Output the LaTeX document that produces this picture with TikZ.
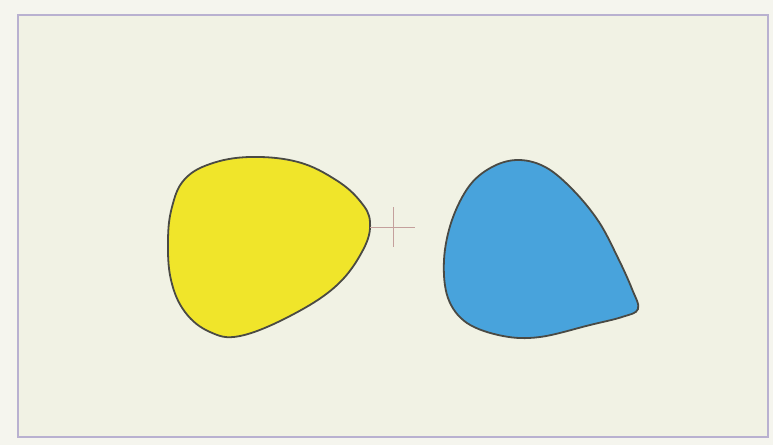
\documentclass[tikz,border=0pt]{standalone}
\begin{document}
\begin{tikzpicture}[x=1pt,y=-1pt]
\definecolor{outerbg}{HTML}{F5F5EE}
\definecolor{innerbg}{HTML}{F1F2E4}
\definecolor{framec}{HTML}{B9B1D0}
\definecolor{blobyellow}{HTML}{F0E52A}
\definecolor{blobblue}{HTML}{48A3DC}
\definecolor{outline}{HTML}{4A4A44}
\definecolor{crossc}{HTML}{C4A09C}
\tikzset{blob/.style={draw=outline,line width=1.8pt,line join=round}}
\useasboundingbox (0,0) rectangle (773,445);
\fill[outerbg] (0,0) rectangle (773,445);
\fill[innerbg] (18,15) rectangle (768,437);
\draw[framec,line width=2.6pt] (18,15) rectangle (768,437);
% yellow blob
\filldraw[blob,fill=blobyellow] plot[smooth cycle,tension=0.65] coordinates {
 (184,180) (210,164) (250,157) (298,162) (336,180) (360,201) (370,222)
 (363,250) (336,286) (290,316) (240,336) (210,332) (185,312) (171,280)
 (168,240) (172,207)};
% blue blob
\filldraw[blob,fill=blobblue] plot[smooth cycle,tension=0.6] coordinates {
 (470,185) (494,166) (520,160) (547,168) (574,191) (599,222) (618,258)
 (632,289) (638,309) (622,317) (590,325) (540,337) (503,336) (467,323)
 (448,298) (444,260) (452,220)};
% crosshair
\coordinate (cT) at (393,207);
\coordinate (cB) at (393,247);
\coordinate (cL) at (370,227);
\coordinate (cR) at (415,227);
\draw[crossc,line width=0.9pt] (cT) -- (cB) (cL) -- (cR);
\end{tikzpicture}
\end{document}
